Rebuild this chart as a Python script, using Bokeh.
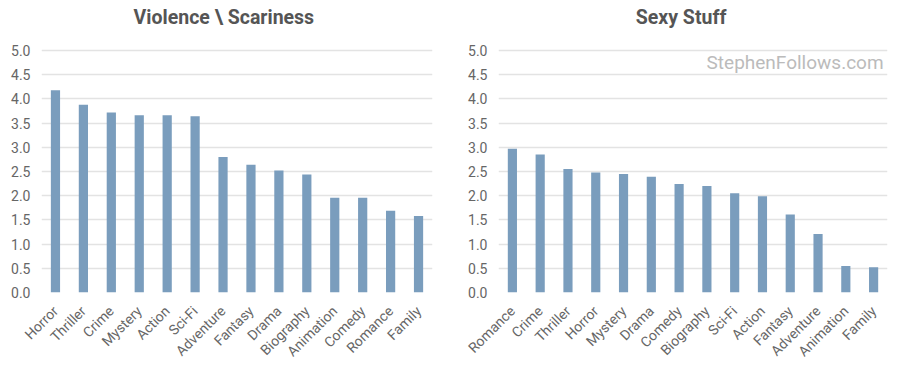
from math import pi
from bokeh.plotting import figure
from bokeh.layouts import row
from bokeh.models import FixedTicker, PrintfTickFormatter, Label, ColumnDataSource
from bokeh.embed import file_html
from bokeh.resources import INLINE

violence_genres = ["Horror", "Thriller", "Crime", "Mystery", "Action", "Sci-Fi", "Adventure",
                   "Fantasy", "Drama", "Biography", "Animation", "Comedy", "Romance", "Family"]
violence_values = [4.18, 3.88, 3.72, 3.66, 3.66, 3.64, 2.80, 2.64, 2.52, 2.44, 1.96, 1.96, 1.69, 1.58]

sexy_genres = ["Romance", "Crime", "Thriller", "Horror", "Mystery", "Drama", "Comedy",
               "Biography", "Sci-Fi", "Action", "Fantasy", "Adventure", "Animation", "Family"]
sexy_values = [2.97, 2.85, 2.55, 2.48, 2.45, 2.39, 2.24, 2.20, 2.05, 1.99, 1.61, 1.21, 0.55, 0.52]

y_ticks = [0.0, 0.5, 1.0, 1.5, 2.0, 2.5, 3.0, 3.5, 4.0, 4.5, 5.0]

BAR = "#7a9dbd"
FONT = "Roboto"
Y_TOP = 5 + 50 / 48.4   # headroom above 5.0 holds the chart title


def make(title, cats, vals, bl, fw, br, title_x):
    p = figure(x_range=cats, y_range=(0, Y_TOP), frame_width=fw, frame_height=292,
               output_backend="svg", toolbar_location=None,
               min_border_left=bl, min_border_right=br, min_border_top=0,
               min_border_bottom=70)
    src = ColumnDataSource(dict(x=cats, top=vals))
    p.vbar(x="x", top="top", width=0.33, source=src, fill_color=BAR, line_color=None)
    p.add_layout(Label(x=title_x, y=5 + 33 / 48.4, text=title, text_align="center",
                       text_baseline="middle", text_font=FONT, text_font_style="bold",
                       text_font_size="19.5px", text_color="#555555"))
    p.outline_line_color = None
    p.xgrid.grid_line_color = None
    p.ygrid.grid_line_color = "#e3e3e3"
    p.ygrid.grid_line_width = 1.5
    p.yaxis.ticker = FixedTicker(ticks=y_ticks)
    p.yaxis.formatter = PrintfTickFormatter(format="%.1f")
    for ax in (p.xaxis, p.yaxis):
        ax.axis_line_color = None
        ax.major_tick_line_color = None
        ax.minor_tick_line_color = None
        ax.major_label_text_font = FONT
        ax.major_label_text_font_size = "14px"
        ax.major_label_text_color = "#666666"
    p.xaxis.major_label_orientation = pi / 4
    p.xaxis.major_label_standoff = 10
    p.x_range.range_padding = 0
    return p


p1 = make("Violence \\ Scariness", violence_genres, violence_values, 41, 391, 18, 6.53)
p2 = make("Sexy Stuff", sexy_genres, sexy_values, 48, 389, 13, 6.57)
p2.add_layout(Label(x=13.86, y=4.75, text="StephenFollows.com", text_align="right",
                    text_baseline="middle", text_font=FONT, text_font_size="19px",
                    text_color="#bbbbbb"))

layout = row(p1, p2)
open("out.html", "w").write(file_html(layout, INLINE))
